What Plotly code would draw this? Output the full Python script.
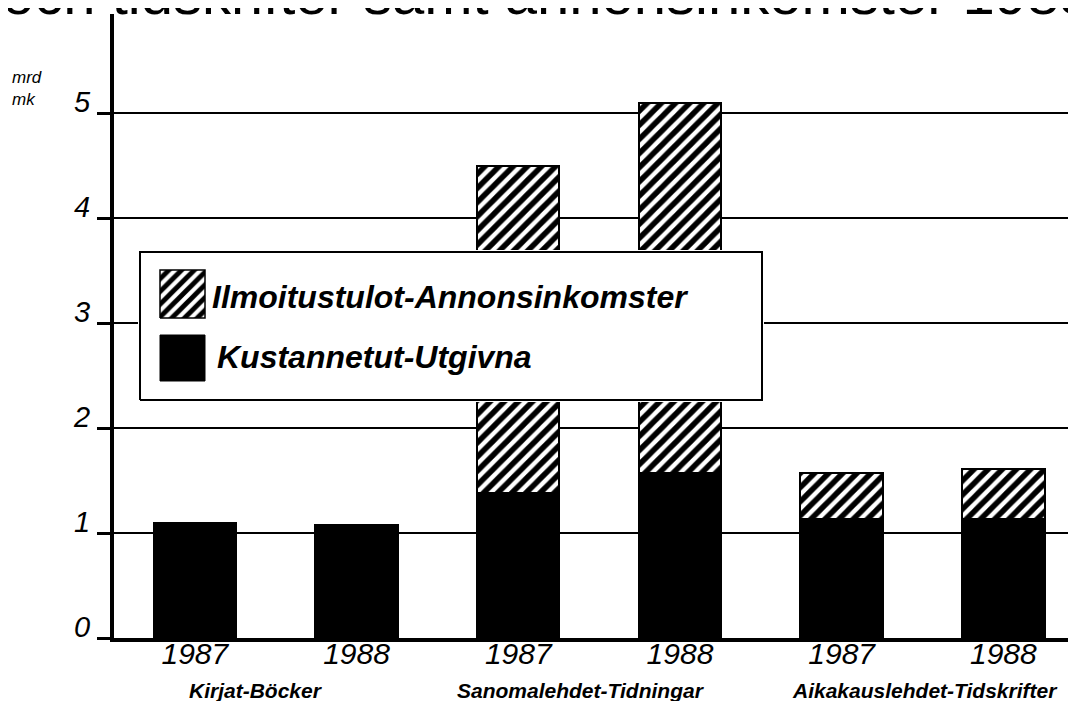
import plotly.graph_objects as go

# ---------------- data ----------------
groups = ["Kirjat-Böcker", "Sanomalehdet-Tidningar", "Aikakauslehdet-Tidskrifter"]
years = ["1987", "1988", "1987", "1988", "1987", "1988"]
published = [1.10, 1.08, 1.38, 1.57, 1.13, 1.13]        # Kustannetut-Utgivna
advertising = [None, None, 3.12, 3.53, 0.44, 0.48]      # Ilmoitustulot-Annonsinkomster
y_ticks = [0, 1, 2, 3, 4, 5]
name_ads = "Ilmoitustulot-Annonsinkomster"
name_pub = "Kustannetut-Utgivna"
unit_label = "mrd<br>mk"
title_text = "och tidskrifter samt annonsinkomster 1988"

# ---------------- layout constants (screen pixels) ----------------
FONT = "Liberation Sans, Arial, Helvetica, sans-serif"
OFF = 8                      # page body margin
W, H = 1076 - OFF, 701 - OFF
PL, PT, PB = 114, 14, 638    # plot left / top / baseline on screen
plot_w = 1076 - PL
plot_h = PB - PT
px_per_unit = 105.0
px_per_cat = 161.7
BAR_W = 0.51

def px_x(sx):
    return (sx - PL) / plot_w

def px_y(sy):
    return (PB - sy) / plot_h

x = list(range(len(years)))

hatch = dict(shape="/", fgcolor="black", bgcolor="white", size=10, solidity=0.55, fgopacity=1)

fig = go.Figure()
fig.add_bar(x=x, y=published, name=name_pub, width=BAR_W,
            marker=dict(color="black", line=dict(color="black", width=2)),
            showlegend=False)
fig.add_bar(x=x, y=advertising, name=name_ads, width=BAR_W,
            marker=dict(color="white", line=dict(color="black", width=2), pattern=hatch),
            showlegend=False)

# ---------------- custom legend drawn in an overlay subplot ----------------
lx0, lx1, ly0, ly1 = 138, 764, 250, 402
bw, bh = (lx1 - lx0 - 4), (ly1 - ly0 - 4)
sw_x0, sw_x1 = 20, 65

def rect(x0, x1, y0, y1):
    return [x0, x1, x1, x0, x0], [y0, y0, y1, y1, y0]

bx, by = rect(0, bw, 0, bh)
fig.add_trace(go.Scatter(x=bx, y=by, mode="lines", fill="toself", fillcolor="white",
                         line=dict(color="black", width=2), xaxis="x2", yaxis="y2",
                         hoverinfo="skip", showlegend=False))
hx, hy = rect(sw_x0, sw_x1, 82, 130)
fig.add_trace(go.Scatter(x=hx, y=hy, mode="lines", fill="toself", fillcolor="white",
                         fillpattern=dict(shape="/", fgcolor="black", bgcolor="white",
                                          size=9, solidity=0.55, fgopacity=1),
                         line=dict(color="black", width=1.5), xaxis="x2", yaxis="y2",
                         hoverinfo="skip", showlegend=False))
kx, ky = rect(sw_x0, sw_x1, 19, 65)
fig.add_trace(go.Scatter(x=kx, y=ky, mode="lines", fill="toself", fillcolor="black",
                         line=dict(color="black", width=1), xaxis="x2", yaxis="y2",
                         hoverinfo="skip", showlegend=False))

annotations = [
    dict(text=name_ads, xref="x2", yref="y2", x=70, y=103, xanchor="left", yanchor="middle",
         showarrow=False, font=dict(size=32, weight="bold", style="italic", family=FONT)),
    dict(text=name_pub, xref="x2", yref="y2", x=75, y=43, xanchor="left", yanchor="middle",
         showarrow=False, font=dict(size=32, weight="bold", style="italic", family=FONT)),
    dict(text=unit_label, xref="paper", yref="paper", x=px_x(10), y=px_y(66),
         xanchor="left", yanchor="top", align="left", showarrow=False,
         font=dict(size=17, style="italic", family=FONT)),
    dict(text=title_text, xref="paper", yref="paper", x=px_x(0), y=1,
         xanchor="left", yanchor="bottom", yshift=-14, showarrow=False,
         font=dict(size=58, family=FONT)),
]
group_shift = [-20, -18, 2]
for i, g in enumerate(groups):
    mid = (x[2 * i] + x[2 * i + 1]) / 2
    annotations.append(dict(text=g, xref="x", yref="paper", x=mid, xshift=group_shift[i],
                            y=px_y(690), xanchor="center", yanchor="middle",
                            showarrow=False,
                            font=dict(size=21, weight="bold", style="italic", family=FONT)))

fig.update_layout(
    width=W, height=H,
    margin=dict(l=PL - OFF, r=0, t=PT - OFF, b=H - (PB - OFF), pad=0),
    paper_bgcolor="white", plot_bgcolor="white",
    barmode="stack", showlegend=False,
    font=dict(family=FONT, color="black"),
    xaxis=dict(domain=[0, 1], range=[-0.5, -0.5 + plot_w / px_per_cat],
               tickmode="array", tickvals=x, ticktext=years,
               tickfont=dict(size=30, style="italic", family=FONT),
               showline=True, linecolor="black", linewidth=4,
               showgrid=False, zeroline=False, ticks="", ticklabelstandoff=-14,
               fixedrange=True),
    yaxis=dict(domain=[0, 1], range=[0, plot_h / px_per_unit],
               tickmode="array", tickvals=y_ticks,
               tickfont=dict(size=29, style="italic", family=FONT),
               showline=True, linecolor="black", linewidth=4,
               showgrid=True, gridcolor="black", gridwidth=2, zeroline=False,
               ticks="outside", ticklen=13, tickwidth=3, tickcolor="black",
               ticklabelstandoff=1, ticklabelshift=-11, fixedrange=True),
    xaxis2=dict(domain=[px_x(lx0), px_x(lx1)], range=[-2, bw + 2],
                anchor="y2", visible=False, fixedrange=True),
    yaxis2=dict(domain=[px_y(ly1), px_y(ly0)], range=[-2, bh + 2],
                anchor="x2", visible=False, fixedrange=True),
    annotations=annotations,
)

fig.write_html("out.html")
